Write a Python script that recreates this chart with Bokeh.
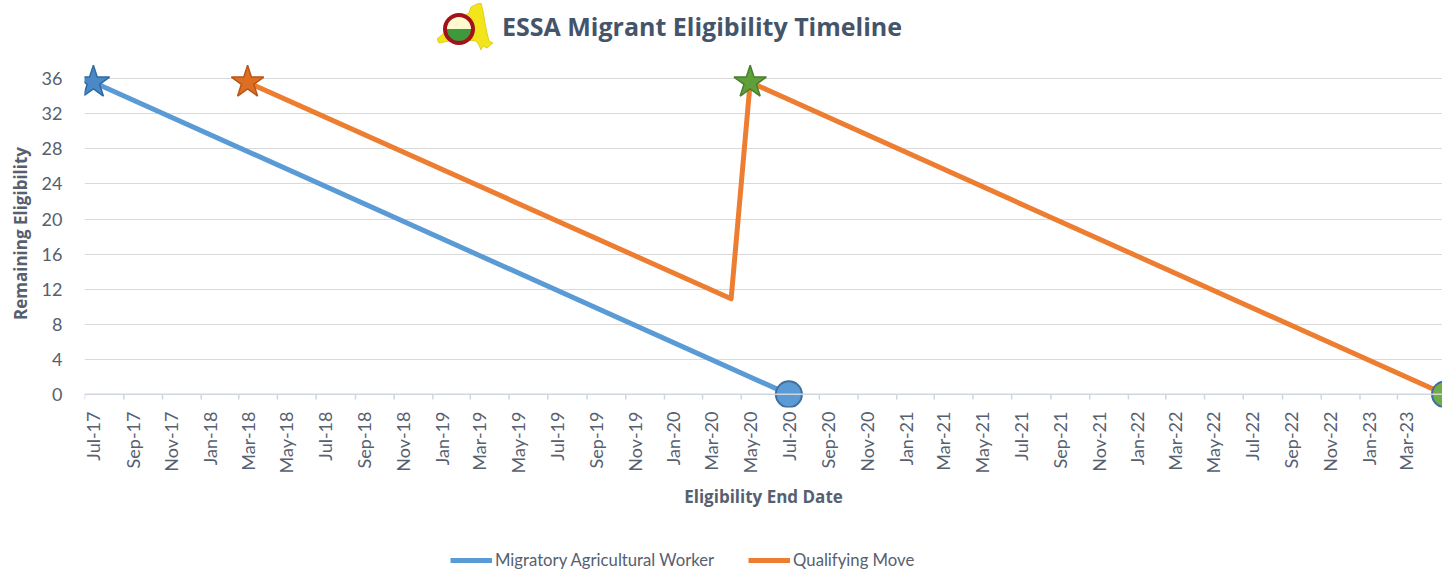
import math
import pandas as pd
from bokeh.plotting import figure
from bokeh.models import (Range1d, FixedTicker, DatetimeTickFormatter, Span,
                          Legend, LegendItem, Div)
from bokeh.layouts import column
from bokeh.embed import file_html
from bokeh.resources import INLINE

# ---------------- data ----------------
worker_dates = ["2017-07-15", "2020-07-15"]
worker_values = [35.6, 0.0]

move_dates = ["2018-03-15", "2020-04-15", "2020-05-15", "2023-05-15"]
move_values = [35.6, 10.9, 35.6, 0.0]

star_dates = ["2017-07-15", "2018-03-15", "2020-05-15"]
star_values = [35.6, 35.6, 35.6]

end_dates = ["2020-07-15", "2023-05-15"]
end_values = [0.0, 0.0]

series_names = ["Migratory Agricultural Worker", "Qualifying Move"]

tick_labels = ["Jul-17", "Sep-17", "Nov-17", "Jan-18", "Mar-18", "May-18",
               "Jul-18", "Sep-18", "Nov-18", "Jan-19", "Mar-19", "May-19",
               "Jul-19", "Sep-19", "Nov-19", "Jan-20", "Mar-20", "May-20",
               "Jul-20", "Sep-20", "Nov-20", "Jan-21", "Mar-21", "May-21",
               "Jul-21", "Sep-21", "Nov-21", "Jan-22", "Mar-22", "May-22",
               "Jul-22", "Sep-22", "Nov-22", "Jan-23", "Mar-23", "May-23"]
y_ticks = [0, 4, 8, 12, 16, 20, 24, 28, 32, 36]

# ---------------- styles ----------------
BLUE = "#5B9BD5"
ORANGE = "#ED7D31"
TEXT = "#56606F"
TITLE = "#44546A"
GRID = "#D9D9D9"
AXIS = "#CFD6E0"
FONT = "Lato"
BOLD_FONT = "Open Sans"

star_fill = ["#4A89C6", "#DE6F22", "#5FA03A"]
star_line = ["#2F6AA3", "#B5561A", "#4A7E2C"]
end_fill = [BLUE, "#70AD47"]
end_line = ["#3F6F9F", "#3F6F9F"]

to_dt = lambda s: pd.to_datetime(s)
month_starts = [pd.to_datetime(l, format="%b-%y") for l in tick_labels]
label_pos = [(m + pd.Timedelta(days=14)).timestamp() * 1000 for m in month_starts]
bound_pos = [m.timestamp() * 1000 for m in month_starts]

x_start = pd.Timestamp("2017-07-01")
x_end = pd.Timestamp("2023-05-11")

worker_x = [to_dt(d) for d in worker_dates]
move_x = [to_dt(d) for d in move_dates]

# ---------------- main chart ----------------
p = figure(width=1442, height=487, x_axis_type="datetime",
           x_range=Range1d(x_start, x_end), y_range=Range1d(-1.5, 38.2),
           output_backend="svg", toolbar_location=None,
           min_border_left=84, min_border_right=0, min_border_top=6,
           min_border_bottom=133)
p.frame_width = 1358
p.frame_height = 348
p.outline_line_color = None
p.background_fill_color = "white"
p.border_fill_color = "white"

p.xgrid.visible = False
p.ygrid.ticker = FixedTicker(ticks=y_ticks)
p.ygrid.grid_line_color = GRID
p.ygrid.grid_line_width = 1

# y axis
p.yaxis.ticker = FixedTicker(ticks=y_ticks)
p.yaxis.axis_line_color = None
p.yaxis.major_tick_line_color = None
p.yaxis.minor_tick_line_color = None
p.yaxis.major_tick_out = 0
p.yaxis.minor_tick_out = 0
p.yaxis.major_label_standoff = 22
p.yaxis.major_label_text_font = FONT
p.yaxis.major_label_text_font_size = "18px"
p.yaxis.major_label_text_color = TEXT
p.yaxis.axis_label = "Remaining Eligibility"
p.yaxis.axis_label_text_font = BOLD_FONT
p.yaxis.axis_label_text_font_style = "bold"
p.yaxis.axis_label_text_font_size = "17px"
p.yaxis.axis_label_text_color = TEXT
p.yaxis.axis_label_standoff = 7

# x axis
p.xaxis.ticker = FixedTicker(ticks=label_pos)
p.xaxis.formatter = DatetimeTickFormatter(
    milliseconds="%b-%y", seconds="%b-%y", minsec="%b-%y", minutes="%b-%y",
    hourmin="%b-%y", hours="%b-%y", days="%b-%y", months="%b-%y", years="%b-%y")
p.xaxis.axis_line_color = None
p.xaxis.major_tick_line_color = None
p.xaxis.minor_tick_line_color = None
p.xaxis.major_tick_out = 0
p.xaxis.minor_tick_out = 0
p.xaxis.major_label_orientation = math.pi / 2
p.xaxis.major_label_standoff = 4
p.xaxis.major_label_text_font = FONT
p.xaxis.major_label_text_font_size = "18px"
p.xaxis.major_label_text_color = TEXT
p.xaxis.axis_label = "Eligibility End Date"
p.xaxis.axis_label_text_font = BOLD_FONT
p.xaxis.axis_label_text_font_style = "bold"
p.xaxis.axis_label_text_font_size = "17px"
p.xaxis.axis_label_text_color = TEXT
p.xaxis.axis_label_standoff = 8

# axis line at zero and tick marks at slot boundaries
p.add_layout(Span(location=0, dimension="width", line_color=AXIS, line_width=1.5))
p.segment(x0=bound_pos, y0=[0] * len(bound_pos), x1=bound_pos,
          y1=[-0.6] * len(bound_pos), line_color=AXIS, line_width=1.5)

# series
p.line(worker_x, worker_values, line_width=5, line_color=BLUE,
       line_join="round", line_cap="round")
p.line(move_x, move_values, line_width=5, line_color=ORANGE,
       line_join="round", line_cap="round")

p.scatter([to_dt(d) for d in star_dates], star_values, marker="star", size=34,
          fill_color=star_fill, line_color=star_line, line_width=1.5)
p.scatter([to_dt(d) for d in end_dates], end_values, marker="circle", size=26,
          fill_color=end_fill, line_color=end_line, line_width=2)

# ---------------- legend strip (frame aligned with main chart) ----------------
lg = figure(width=1442, height=31, x_range=Range1d(0, 1), y_range=Range1d(0, 1),
            x_axis_location=None, y_axis_location=None,
            output_backend="svg", toolbar_location=None, min_border=0)
lg.outline_line_color = None
lg.grid.visible = False
# proxies of the two series (their points fall outside this strip's ranges)
lg_worker = lg.line(worker_x, worker_values, line_width=5, line_color=BLUE)
lg_move = lg.line(move_x, move_values, line_width=5, line_color=ORANGE)
legend = Legend(items=[LegendItem(label=series_names[0], renderers=[lg_worker]),
                       LegendItem(label=series_names[1], renderers=[lg_move])],
                orientation="horizontal", location=(366, 1),
                border_line_color=None, background_fill_alpha=0,
                label_text_font=FONT, label_text_font_size="16.7px",
                label_text_color=TEXT, glyph_width=42, glyph_height=20,
                label_height=20, label_standoff=3, spacing=34, margin=0, padding=0)
lg.add_layout(legend, "center")

# ---------------- title with logo ----------------
logo = ('<svg width="56" height="48" viewBox="0 0 56 48" style="flex:none">'
        '<polygon points="0,36 6,31 14,28 20,22 26,14 32,10 34,4 40,1 44,0 46,8 48,20 '
        '50,30 52,38 56,40 50,45 46,43 44,47 42,42 39,38 30,37 12,38 2,40" '
        'fill="#F2E51C" stroke="#D8C800" stroke-width="0.8"/>'
        '<circle cx="22" cy="26" r="13" fill="#FFF9D0"/>'
        '<path d="M9,26 A13,13 0 0 0 35,26 Z" fill="#3C9A3C"/>'
        '<circle cx="22" cy="26" r="14" fill="none" stroke="#A3111B" stroke-width="4"/>'
        '</svg>')
title_html = ('<div style="display:flex;align-items:center;height:47px;padding-top:7px;'
              'padding-left:437px;">'
              + logo +
              '<span style="font-family:\'Open Sans\';font-weight:bold;font-size:25px;color:%s;'
              'margin-left:9px;white-space:nowrap;">ESSA Migrant Eligibility Timeline</span>'
              '</div>' % TITLE)
title_div = Div(text=title_html, width=1442, height=53, margin=(0, 0, 0, 0))

layout = column(title_div, p, lg, spacing=0)
open("out.html", "w").write(file_html(layout, INLINE))
